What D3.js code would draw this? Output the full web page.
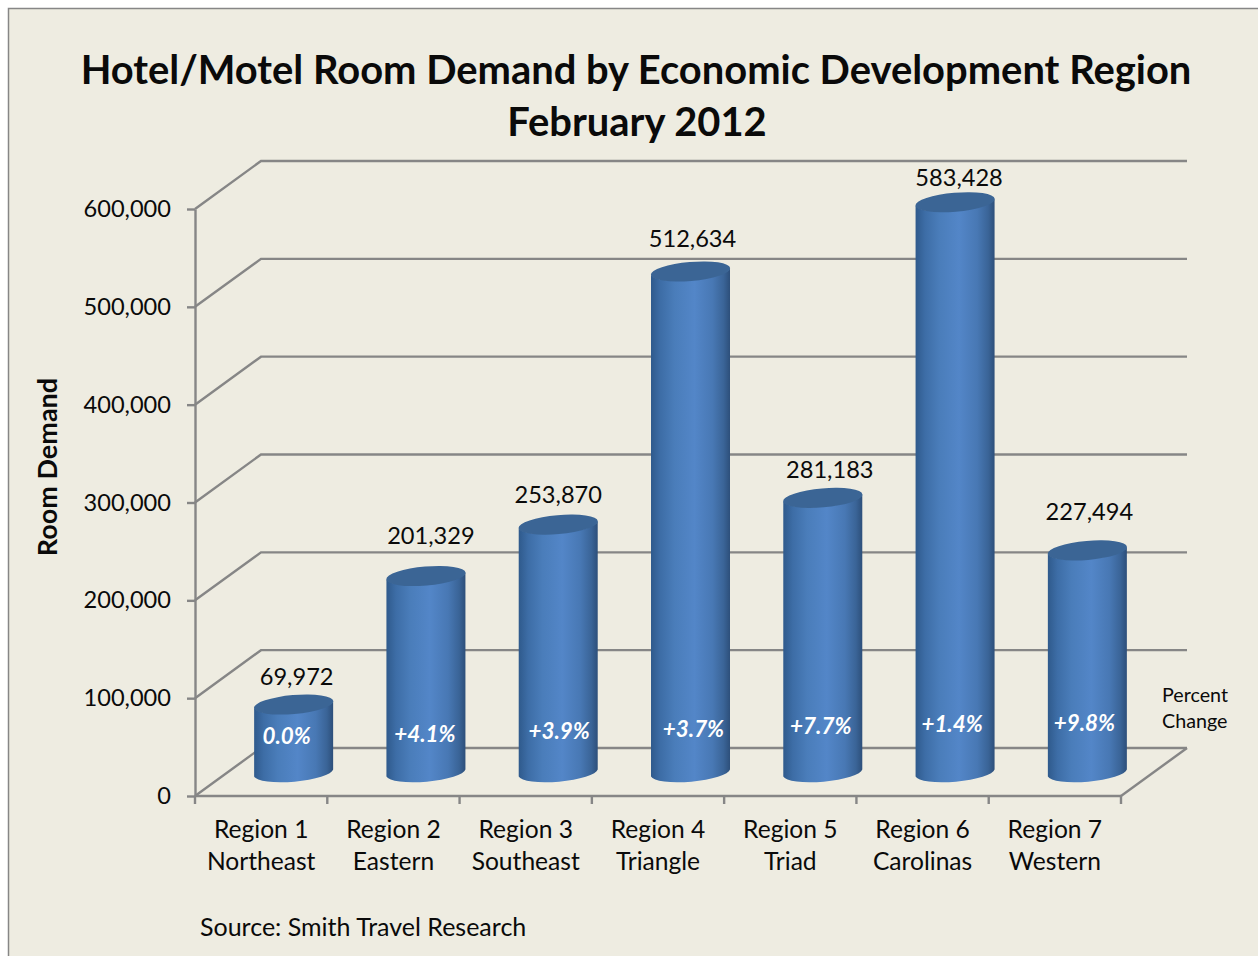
<!DOCTYPE html>
<html>
<head>
<meta charset="utf-8">
<script src="https://cdnjs.cloudflare.com/ajax/libs/d3/7.8.5/d3.min.js"></script>
<style>
  html, body { margin: 0; padding: 0; background: #fff; }
  svg { display: block; }
  text { font-family: Lato, "Open Sans", sans-serif; fill: #0a0a0a; }
</style>
</head>
<body>
<div id="chart"></div>
<script>
const regions = ['Region 1', 'Region 2', 'Region 3', 'Region 4', 'Region 5', 'Region 6', 'Region 7'];
const areas = ['Northeast', 'Eastern', 'Southeast', 'Triangle', 'Triad', 'Carolinas', 'Western'];
const demand = [69972, 201329, 253870, 512634, 281183, 583428, 227494];
const change = ['0.0%', '+4.1%', '+3.9%', '+3.7%', '+7.7%', '+1.4%', '+9.8%'];
const yTicks = [0, 100000, 200000, 300000, 400000, 500000, 600000];

// hand placed labels in the original, offsets from the column top / centre
const valueNudgeX = [3, 5, 0, 2, 7, 4, 2];
const valueNudgeY = [20, 32, 22, 24, 20, 16, 30];
const pctNudgeX = [-7, -1, 1, 3, -2, -3, -3];
const pctBaseline = [744, 742, 739, 737, 734, 732, 731];

const width = 1258, height = 956;
const depth = { x: 66, y: -48 };

const svg = d3.select('#chart').append('svg')
  .attr('width', width)
  .attr('height', height);

const x = d3.scaleBand().domain(regions).range([195, 1121]);
const y = d3.scaleLinear().domain([0, 600000]).range([796, 209]);

// chart frame
svg.append('rect')
  .attr('x', 8.5).attr('y', 8.5)
  .attr('width', width + 20).attr('height', height + 20)
  .attr('fill', '#eeece1')
  .attr('stroke', '#868686')
  .attr('stroke-width', 1.5);

// title
const title = svg.append('g').attr('text-anchor', 'middle')
  .style('font-weight', 700).style('font-size', '39.9px');
title.append('text').attr('x', 636).attr('y', 84)
  .text('Hotel/Motel Room Demand by Economic Development Region');
title.append('text').attr('x', 637).attr('y', 136).text('February 2012');

// walls and floor
const grid = svg.append('g')
  .attr('fill', 'none')
  .attr('stroke', '#868686')
  .attr('stroke-width', 2.4);

grid.selectAll('path.wall')
  .data(yTicks)
  .enter()
  .append('path')
  .attr('class', 'wall')
  .attr('d', (d) => {
    const p = d3.path();
    p.moveTo(195, y(d));
    p.lineTo(195 + depth.x, y(d) + depth.y);
    p.lineTo(1121 + depth.x, y(d) + depth.y);
    return p.toString();
  });

grid.append('path')
  .attr('d', () => {
    const p = d3.path();
    p.moveTo(1121 + depth.x, y(0) + depth.y);
    p.lineTo(1121, y(0));
    return p.toString();
  });

// axes
const yAxis = svg.append('g')
  .attr('transform', 'translate(195,0)')
  .call(d3.axisLeft(y).tickValues(yTicks).tickFormat(d3.format(',')).tickSize(8).tickSizeOuter(0).tickPadding(16));
yAxis.selectAll('path, line').attr('stroke', '#868686').attr('stroke-width', 2.4);
yAxis.selectAll('text').style('font-size', '23.6px').attr('fill', '#0a0a0a');

const xEdge = d3.scaleLinear().domain([0, regions.length]).range(x.range());
const xAxis = svg.append('g')
  .attr('transform', `translate(0,${y(0)})`);
xAxis.append('line')
  .attr('x1', 195).attr('x2', 1121)
  .attr('stroke', '#868686').attr('stroke-width', 2.4);
xAxis.selectAll('line.tick')
  .data(d3.range(regions.length + 1))
  .enter()
  .append('line')
  .attr('class', 'tick')
  .attr('x1', (d) => xEdge(d)).attr('x2', (d) => xEdge(d))
  .attr('y1', 0).attr('y2', 8)
  .attr('stroke', '#868686').attr('stroke-width', 2.4);

const xLabels = svg.append('g')
  .attr('text-anchor', 'middle')
  .style('font-size', '24.6px');
xLabels.selectAll('text')
  .data(regions)
  .enter()
  .append('text')
  .attr('transform', (d) => `translate(${x(d) + x.bandwidth() / 2},0)`)
  .each(function (d, i) {
    const t = d3.select(this);
    t.append('tspan').attr('x', 0).attr('y', 838).text(d);
    t.append('tspan').attr('x', 0).attr('y', 870).text(areas[i]);
  });

// axis title
svg.append('text')
  .attr('transform', 'translate(57,467) rotate(-90)')
  .attr('text-anchor', 'middle')
  .style('font-weight', 700)
  .style('font-size', '27px')
  .text('Room Demand');

// columns
const defs = svg.append('defs');
const grad = defs.append('linearGradient').attr('id', 'cyl');
[[0, '#2f5a8c'], [0.12, '#3d6da6'], [0.3, '#4a7dba'], [0.55, '#5386c8'],
 [0.78, '#4878b4'], [0.92, '#3a6497'], [1, '#2d4f7a']].forEach((s) => {
  grad.append('stop').attr('offset', s[0]).attr('stop-color', s[1]);
});

const halfW = 39.5, rx = 39.8, ry = 9.5, tilt = -5, sideDrop = 3.5;
const floorY = y(0) + depth.y / 2 + 1;
const barH = (d) => y(0) - y(d);
const cx = (d, i) => x(regions[i]) + x.bandwidth() / 2 + depth.x / 2 - 0.5;

const columns = svg.selectAll('g.column')
  .data(demand)
  .enter()
  .append('g')
  .attr('class', 'column');

columns.append('path')
  .attr('fill', 'url(#cyl)')
  .attr('d', (d, i) => {
    const c = cx(d, i);
    const top = floorY - barH(d);
    return `M${c - halfW},${top + sideDrop}`
      + `L${c - halfW},${floorY + sideDrop}`
      + `A${rx},${ry} ${tilt} 0 0 ${c + halfW},${floorY - sideDrop}`
      + `L${c + halfW},${top - sideDrop}`
      + `A${rx},${ry} ${tilt} 0 1 ${c - halfW},${top + sideDrop}Z`;
  });

columns.append('ellipse')
  .attr('rx', rx)
  .attr('ry', ry)
  .attr('fill', '#3b6595')
  .attr('transform', (d, i) => `translate(${cx(d, i)},${floorY - barH(d)}) rotate(${tilt})`);

// value labels
columns.append('text')
  .attr('x', (d, i) => cx(d, i) + valueNudgeX[i])
  .attr('y', (d, i) => floorY - barH(d) - valueNudgeY[i])
  .attr('text-anchor', 'middle')
  .style('font-size', '23.6px')
  .text((d) => d3.format(',')(d));

// percent change labels
columns.append('text')
  .attr('x', (d, i) => cx(d, i) + pctNudgeX[i])
  .attr('y', (d, i) => pctBaseline[i])
  .attr('text-anchor', 'middle')
  .style('font-size', '22.4px')
  .style('font-weight', 700)
  .style('font-style', 'italic')
  .style('fill', '#fff')
  .text((d, i) => change[i]);

// side note
const note = svg.append('g').style('font-size', '19.7px');
note.append('text').attr('x', 1162).attr('y', 702).text('Percent');
note.append('text').attr('x', 1162).attr('y', 728).text('Change');

svg.append('text')
  .attr('x', 200).attr('y', 936)
  .style('font-size', '25px')
  .text('Source: Smith Travel Research');
</script>
</body>
</html>
